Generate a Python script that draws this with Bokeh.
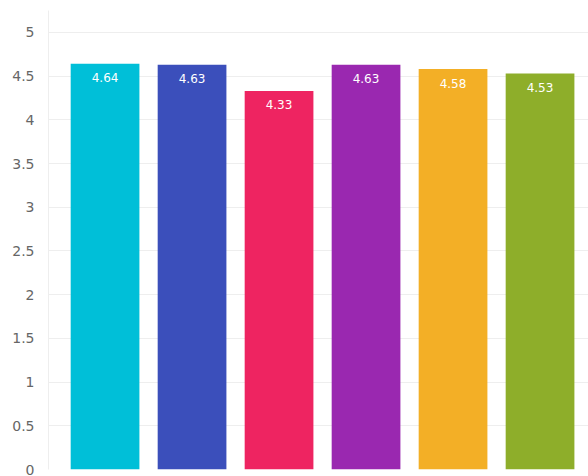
from bokeh.plotting import figure
from bokeh.models import Range1d, ColumnDataSource, SingleIntervalTicker, LabelSet
from bokeh.core.properties import value
from bokeh.embed import file_html
from bokeh.resources import INLINE

categories = ["A", "B", "C", "D", "E", "F"]
values = [4.64, 4.63, 4.33, 4.63, 4.58, 4.53]
colors = ["#00BFD8", "#3B4FBB", "#EE2461", "#9A28B0", "#F3AF26", "#8EAE2A"]
labels = ["%.2f" % v for v in values]

src = ColumnDataSource(dict(x=list(range(len(categories))), top=values,
                            color=colors, label=labels, cat=categories))

p = figure(width=588, height=476, output_backend="svg", toolbar_location=None,
           x_range=Range1d(-0.65, 5.557), y_range=Range1d(0, 5.25),
           min_border_left=48, min_border_right=0, min_border_top=10, min_border_bottom=7)
p.outline_line_color = None
p.vbar(x="x", top="top", width=0.79, color="color", source=src, line_color=None)

p.add_layout(LabelSet(x="x", y="top", text="label", source=src, text_color="white",
                      text_font=value("DejaVu Sans"), text_font_size="12px", text_align="center",
                      text_baseline="middle", y_offset=-14))

p.xaxis.visible = False
p.xgrid.visible = False
p.yaxis.ticker = SingleIntervalTicker(interval=0.5)
p.yaxis.major_tick_line_color = None
p.yaxis.minor_tick_line_color = None
p.yaxis.axis_line_color = "#eeeeee"
p.yaxis.major_label_text_font = "DejaVu Sans"
p.yaxis.major_label_text_font_size = "14px"
p.yaxis.major_label_text_color = "#666666"
p.yaxis.major_label_standoff = 8
p.ygrid.grid_line_color = "#eeeeee"
p.ygrid.ticker = SingleIntervalTicker(interval=0.5)

open("out.html", "w").write(file_html(p, INLINE))
